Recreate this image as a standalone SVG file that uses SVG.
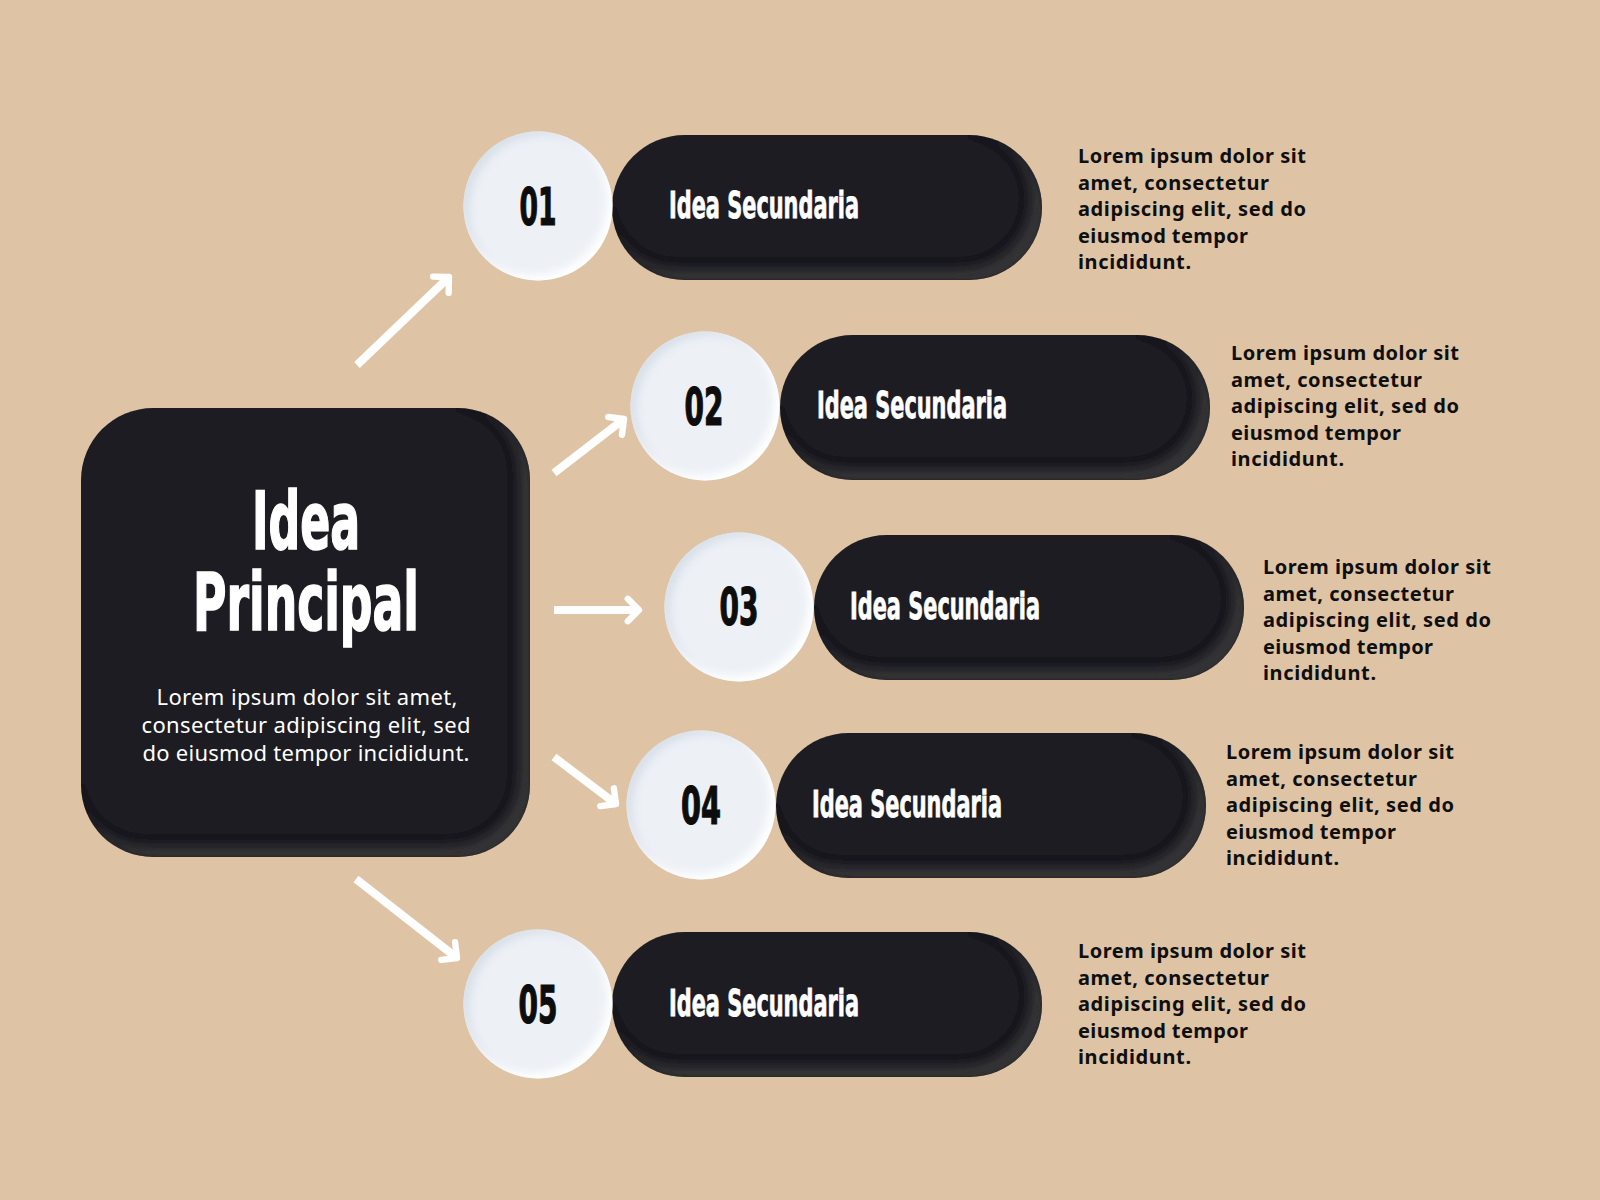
<svg xmlns="http://www.w3.org/2000/svg" width="1600" height="1200" viewBox="0 0 1600 1200">
  <defs>
    <style>
      .dark { fill: #1f1f20; filter: url(#bevelDark); }
      .disc { fill: #edf1f6; filter: url(#bevelLight); }
      .cond { font-family: "Liberation Sans Narrow", "DejaVu Sans Condensed", "Liberation Sans", sans-serif; font-weight: bold; }
      .title { fill: #ffffff; stroke: #ffffff; stroke-width: 1.6; font-size: 80px; text-anchor: middle; }
      .num { fill: #0d0d0d; stroke: #0d0d0d; stroke-width: 1.2; font-size: 52px; text-anchor: middle; }
      .label { fill: #ffffff; stroke: #ffffff; stroke-width: 0.8; font-size: 38px; }
      .body { fill: #ffffff; font-family: "Noto Sans", "Open Sans", sans-serif; font-size: 22px; text-anchor: middle; }
      .desc { fill: #0f0f0f; font-family: "Noto Sans", "Open Sans", sans-serif; font-weight: bold; font-size: 20px; }
      .arrow { fill: none; stroke: #ffffff; stroke-width: 8; marker-end: url(#chev); }
    </style>
    <filter id="bevelDark" x="-5%" y="-5%" width="110%" height="110%">
      <feGaussianBlur in="SourceAlpha" stdDeviation="4" result="b"/>
      <feOffset in="b" dx="-9" dy="-9" result="o"/>
      <feComposite in="SourceAlpha" in2="o" operator="out" result="rim"/>
      <feGaussianBlur in="rim" stdDeviation="3" result="rimb"/>
      <feComposite in="rimb" in2="SourceAlpha" operator="in" result="rimc"/>
      <feFlood flood-color="#3a3a3c" flood-opacity="0.9" result="c"/>
      <feComposite in="c" in2="rimc" operator="in" result="hl"/>
      <feMerge><feMergeNode in="SourceGraphic"/><feMergeNode in="hl"/></feMerge>
    </filter>
    <filter id="bevelLight" x="-5%" y="-5%" width="110%" height="110%">
      <feGaussianBlur in="SourceAlpha" stdDeviation="4" result="b"/>
      <feOffset in="b" dx="6" dy="4" result="o1"/>
      <feComposite in="SourceAlpha" in2="o1" operator="out" result="rim1"/>
      <feFlood flood-color="#d6dde7" flood-opacity="0.9" result="c1"/>
      <feComposite in="c1" in2="rim1" operator="in" result="sh"/>
      <feOffset in="b" dx="-5" dy="-5" result="o2"/>
      <feComposite in="SourceAlpha" in2="o2" operator="out" result="rim2"/>
      <feFlood flood-color="#ffffff" flood-opacity="1" result="c2"/>
      <feComposite in="c2" in2="rim2" operator="in" result="hl"/>
      <feMerge><feMergeNode in="SourceGraphic"/><feMergeNode in="sh"/><feMergeNode in="hl"/></feMerge>
    </filter>
    <marker id="chev" markerUnits="userSpaceOnUse" orient="auto" refX="0" refY="0" markerWidth="40" markerHeight="40" viewBox="-25 -25 40 50" overflow="visible">
      <path d="M-14,-14 L0,0 L-14,14" fill="none" stroke="#ffffff" stroke-width="8" stroke-linecap="round" stroke-linejoin="round"/>
    </marker>
  </defs>

  <rect x="0" y="0" width="1600" height="1200" fill="#dec4a5"/>

  <g id="connectors">
    <line class="arrow" x1="357" y1="365" x2="449" y2="277"/>
    <line class="arrow" x1="554" y1="473" x2="624" y2="419"/>
    <line class="arrow" x1="554" y1="610" x2="639" y2="610"/>
    <line class="arrow" x1="554" y1="757" x2="616" y2="804"/>
    <line class="arrow" x1="356" y1="879" x2="457" y2="958"/>
  </g>

  <g id="main">
    <rect class="dark" x="81" y="408" width="449" height="449" rx="72" ry="72"/>
    <text class="cond title"><tspan x="306" y="549" textLength="108" lengthAdjust="spacingAndGlyphs">Idea</tspan><tspan x="306" y="630" textLength="226" lengthAdjust="spacingAndGlyphs">Principal</tspan></text>
    <text class="body" x="307" y="705" textLength="301" lengthAdjust="spacing">Lorem ipsum dolor sit amet,</text>
    <text class="body" x="306" y="733" textLength="329" lengthAdjust="spacing">consectetur adipiscing elit, sed</text>
    <text class="body" x="306" y="761" textLength="327" lengthAdjust="spacing">do eiusmod tempor incididunt.</text>
  </g>

  <g id="node-01">
    <rect class="dark" x="612" y="135" width="430" height="145" rx="72.5"/>
    <circle class="disc" cx="538" cy="206" r="74.5"/>
    <text class="cond num" x="538" y="225" textLength="37" lengthAdjust="spacingAndGlyphs">01</text>
    <text class="cond label" x="669" y="218" textLength="190" lengthAdjust="spacingAndGlyphs">Idea Secundaria</text>
    <g class="desc">
      <text x="1078" y="163" textLength="228" lengthAdjust="spacing">Lorem ipsum dolor sit</text>
      <text x="1078" y="189.5" textLength="191" lengthAdjust="spacing">amet, consectetur</text>
      <text x="1078" y="216" textLength="228" lengthAdjust="spacing">adipiscing elit, sed do</text>
      <text x="1078" y="242.5" textLength="170" lengthAdjust="spacing">eiusmod tempor</text>
      <text x="1078" y="269" textLength="113" lengthAdjust="spacing">incididunt.</text>
    </g>
  </g>

  <g id="node-02">
    <rect class="dark" x="780" y="335" width="430" height="145" rx="72.5"/>
    <circle class="disc" cx="705" cy="406" r="74.5"/>
    <text class="cond num" x="704" y="425" textLength="39" lengthAdjust="spacingAndGlyphs">02</text>
    <text class="cond label" x="817" y="418" textLength="190" lengthAdjust="spacingAndGlyphs">Idea Secundaria</text>
    <g class="desc">
      <text x="1231" y="360" textLength="228" lengthAdjust="spacing">Lorem ipsum dolor sit</text>
      <text x="1231" y="386.5" textLength="191" lengthAdjust="spacing">amet, consectetur</text>
      <text x="1231" y="413" textLength="228" lengthAdjust="spacing">adipiscing elit, sed do</text>
      <text x="1231" y="439.5" textLength="170" lengthAdjust="spacing">eiusmod tempor</text>
      <text x="1231" y="466" textLength="113" lengthAdjust="spacing">incididunt.</text>
    </g>
  </g>

  <g id="node-03">
    <rect class="dark" x="814" y="535" width="430" height="145" rx="72.5"/>
    <circle class="disc" cx="739" cy="607" r="74.5"/>
    <text class="cond num" x="739" y="625" textLength="39" lengthAdjust="spacingAndGlyphs">03</text>
    <text class="cond label" x="850" y="619" textLength="190" lengthAdjust="spacingAndGlyphs">Idea Secundaria</text>
    <g class="desc">
      <text x="1263" y="574" textLength="228" lengthAdjust="spacing">Lorem ipsum dolor sit</text>
      <text x="1263" y="600.5" textLength="191" lengthAdjust="spacing">amet, consectetur</text>
      <text x="1263" y="627" textLength="228" lengthAdjust="spacing">adipiscing elit, sed do</text>
      <text x="1263" y="653.5" textLength="170" lengthAdjust="spacing">eiusmod tempor</text>
      <text x="1263" y="680" textLength="113" lengthAdjust="spacing">incididunt.</text>
    </g>
  </g>

  <g id="node-04">
    <rect class="dark" x="776" y="733" width="430" height="145" rx="72.5"/>
    <circle class="disc" cx="701" cy="805" r="74.5"/>
    <text class="cond num" x="701" y="824" textLength="40" lengthAdjust="spacingAndGlyphs">04</text>
    <text class="cond label" x="812" y="817" textLength="190" lengthAdjust="spacingAndGlyphs">Idea Secundaria</text>
    <g class="desc">
      <text x="1226" y="759" textLength="228" lengthAdjust="spacing">Lorem ipsum dolor sit</text>
      <text x="1226" y="785.5" textLength="191" lengthAdjust="spacing">amet, consectetur</text>
      <text x="1226" y="812" textLength="228" lengthAdjust="spacing">adipiscing elit, sed do</text>
      <text x="1226" y="838.5" textLength="170" lengthAdjust="spacing">eiusmod tempor</text>
      <text x="1226" y="865" textLength="113" lengthAdjust="spacing">incididunt.</text>
    </g>
  </g>

  <g id="node-05">
    <rect class="dark" x="612" y="932" width="430" height="145" rx="72.5"/>
    <circle class="disc" cx="538" cy="1004" r="74.5"/>
    <text class="cond num" x="538" y="1023" textLength="39" lengthAdjust="spacingAndGlyphs">05</text>
    <text class="cond label" x="669" y="1016" textLength="190" lengthAdjust="spacingAndGlyphs">Idea Secundaria</text>
    <g class="desc">
      <text x="1078" y="958" textLength="228" lengthAdjust="spacing">Lorem ipsum dolor sit</text>
      <text x="1078" y="984.5" textLength="191" lengthAdjust="spacing">amet, consectetur</text>
      <text x="1078" y="1011" textLength="228" lengthAdjust="spacing">adipiscing elit, sed do</text>
      <text x="1078" y="1037.5" textLength="170" lengthAdjust="spacing">eiusmod tempor</text>
      <text x="1078" y="1064" textLength="113" lengthAdjust="spacing">incididunt.</text>
    </g>
  </g>
</svg>
